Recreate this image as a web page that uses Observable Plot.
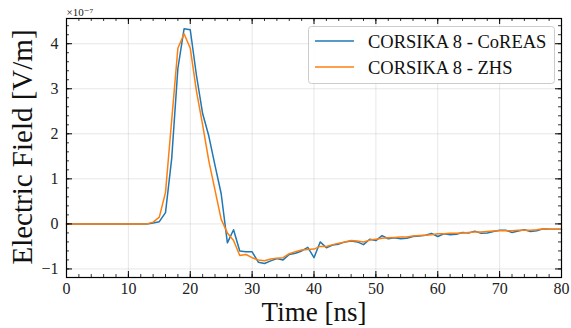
<!DOCTYPE html>
<html>
<head>
<meta charset="utf-8">
<script src="https://cdn.jsdelivr.net/npm/d3@7"></script>
<script src="https://cdn.jsdelivr.net/npm/@observablehq/plot@0.6"></script>
<style>
  html, body { margin: 0; padding: 0; background: #fff; }
  #chart { width: 571px; height: 328px; }
</style>
</head>
<body>
<div id="chart"></div>
<script>
// Time samples [ns]
const time = d3.range(0, 81, 1);
// Electric field (units of 1e-7 V/m)
const coreas = [
  0,0,0,0,0,0,0,0,0,0,0,0,0,            // 0-12
  0.0, 0.02, 0.05, 0.25, 1.45, 3.45, 4.33, 4.31, 3.3, 2.45, 1.95, 1.3, 0.67, // 13-25
  -0.42, -0.13, -0.6, -0.62, -0.62, -0.85, -0.88, -0.82, -0.77, -0.8,        // 26-35
  -0.68, -0.65, -0.6, -0.52, -0.75, -0.40, -0.53, -0.47, -0.45, -0.40,       // 36-45
  -0.38, -0.40, -0.46, -0.34, -0.37, -0.26, -0.33, -0.31, -0.33, -0.32,      // 46-55
  -0.28, -0.27, -0.25, -0.21, -0.28, -0.22, -0.24, -0.23, -0.19, -0.20,      // 56-65
  -0.16, -0.21, -0.20, -0.17, -0.14, -0.14, -0.19, -0.16, -0.13, -0.17,      // 66-75
  -0.15, -0.11, -0.12, -0.12, -0.12                                          // 76-80
];
const zhs = [
  0,0,0,0,0,0,0,0,0,0,0,0,0,            // 0-12
  0.0, 0.04, 0.15, 0.7, 2.3, 3.9, 4.22, 3.9, 2.95, 2.2, 1.4, 0.75, 0.1,     // 13-25
  -0.2, -0.37, -0.7, -0.68, -0.75, -0.8, -0.82, -0.78, -0.76, -0.75,        // 26-35
  -0.66, -0.62, -0.58, -0.57, -0.56, -0.50, -0.50, -0.46, -0.43, -0.40,     // 36-45
  -0.37, -0.38, -0.40, -0.36, -0.34, -0.32, -0.31, -0.30, -0.29, -0.29,     // 46-55
  -0.27, -0.26, -0.25, -0.24, -0.22, -0.22, -0.21, -0.21, -0.20, -0.19,     // 56-65
  -0.18, -0.18, -0.17, -0.16, -0.15, -0.15, -0.15, -0.14, -0.14, -0.14,     // 66-75
  -0.13, -0.11, -0.12, -0.12, -0.12                                         // 76-80
];
const seriesNames = ["CORSIKA 8 - CoREAS", "CORSIKA 8 - ZHS"];
const seriesColors = ["#1f77b4", "#ff7f0e"];
const xTicks = [0, 10, 20, 30, 40, 50, 60, 70, 80];
const yTicks = [-1, 0, 1, 2, 3, 4];

const xDomain = [0, 80];
const yDomain = [-1.19, 4.56];
const W = 571, H = 328;
const mL = 66, mR = 10, mT = 18, mB = 51;
const pxPerX = (W - mL - mR) / (xDomain[1] - xDomain[0]);
const pxPerY = (H - mT - mB) / (yDomain[1] - yDomain[0]);

const dataC = time.map((t, i) => ({t, v: coreas[i]}));
const dataZ = time.map((t, i) => ({t, v: zhs[i]}));

const xMinor = d3.range(0, 80.001, 2);
const yMinor = d3.range(-1.2, 4.6, 0.2).map(v => +v.toFixed(2)).filter(v => v >= yDomain[0] && v <= yDomain[1]);
const majX = 6 / pxPerX, minX = 3 / pxPerX;
const majY = 6 / pxPerY, minY = 3 / pxPerY;
const fmtY = d => d < 0 ? "\u2212" + Math.abs(d) : String(d);
const FONT = "'Liberation Serif', 'DejaVu Serif', serif";

const plot = Plot.plot({
  width: W, height: H,
  marginLeft: mL, marginRight: mR, marginTop: mT, marginBottom: mB,
  style: {fontFamily: FONT, fontSize: "16px", background: "#fff", color: "#222"},
  x: {domain: xDomain},
  y: {domain: yDomain},
  marks: [
    Plot.gridX(xTicks, {stroke: "#b0b0b0", strokeOpacity: 0.3, strokeWidth: 1}),
    Plot.gridY(yTicks, {stroke: "#b0b0b0", strokeOpacity: 0.3, strokeWidth: 1}),
    Plot.line(dataC, {x: "t", y: "v", stroke: seriesColors[0], strokeWidth: 1.5}),
    Plot.line(dataZ, {x: "t", y: "v", stroke: seriesColors[1], strokeWidth: 1.5}),
    Plot.frame({stroke: "#000", strokeWidth: 1.2}),
    // inward ticks: bottom / top
    Plot.ruleX(xTicks, {x: d => d, y1: yDomain[0], y2: yDomain[0] + majY, stroke: "#000"}),
    Plot.ruleX(xTicks, {x: d => d, y1: yDomain[1] - majY, y2: yDomain[1], stroke: "#000"}),
    Plot.ruleX(xMinor, {x: d => d, y1: yDomain[0], y2: yDomain[0] + minY, stroke: "#000", strokeWidth: 0.8}),
    Plot.ruleX(xMinor, {x: d => d, y1: yDomain[1] - minY, y2: yDomain[1], stroke: "#000", strokeWidth: 0.8}),
    // inward ticks: left / right
    Plot.ruleY(yTicks, {y: d => d, x1: xDomain[0], x2: xDomain[0] + majX, stroke: "#000"}),
    Plot.ruleY(yTicks, {y: d => d, x1: xDomain[1] - majX, x2: xDomain[1], stroke: "#000"}),
    Plot.ruleY(yMinor, {y: d => d, x1: xDomain[0], x2: xDomain[0] + minX, stroke: "#000", strokeWidth: 0.8}),
    Plot.ruleY(yMinor, {y: d => d, x1: xDomain[1] - minX, x2: xDomain[1], stroke: "#000", strokeWidth: 0.8}),
    Plot.axisX(xTicks, {tickSize: 0, tickPadding: 5, label: null, fontSize: 16}),
    Plot.axisY(yTicks, {tickSize: 0, tickPadding: 8, label: null, fontSize: 16, tickFormat: fmtY}),
    Plot.text(["Time [ns]"], {text: d => d, frameAnchor: "bottom", textAnchor: "middle", lineAnchor: "middle", dy: 35, fontSize: 27, fill: "#111"}),
    Plot.text(["Electric Field [V/m]"], {text: d => d, frameAnchor: "left", textAnchor: "middle", lineAnchor: "middle", rotate: -90, dx: -44, dy: -1, fontSize: 29, fill: "#111"}),
    Plot.text(["\u00d710\u207b\u2077"], {text: d => d, frameAnchor: "top-left", textAnchor: "start", lineAnchor: "bottom", dy: -3, fontSize: 11, fill: "#222"})
  ]
});
document.getElementById("chart").appendChild(plot);

// Legend (inside plot, upper right)
const svg = d3.select(plot);
const lg = svg.append("g").attr("font-family", FONT).attr("text-anchor", "start");
lg.append("rect").attr("x", 308.5).attr("y", 26.5).attr("width", 246).attr("height", 57)
  .attr("rx", 3).attr("fill", "#fff").attr("fill-opacity", 0.85)
  .attr("stroke", "#cccccc").attr("stroke-width", 1);
seriesNames.forEach((name, i) => {
  const cy = 41 + i * 26;
  lg.append("line").attr("x1", 315).attr("x2", 354).attr("y1", cy).attr("y2", cy)
    .attr("stroke", seriesColors[i]).attr("stroke-width", 1.5);
  lg.append("text").attr("x", 368).attr("y", cy + 6.5).attr("font-size", 18.5)
    .attr("text-anchor", "start").attr("fill", "#111").text(name);
});
</script>
</body>
</html>
